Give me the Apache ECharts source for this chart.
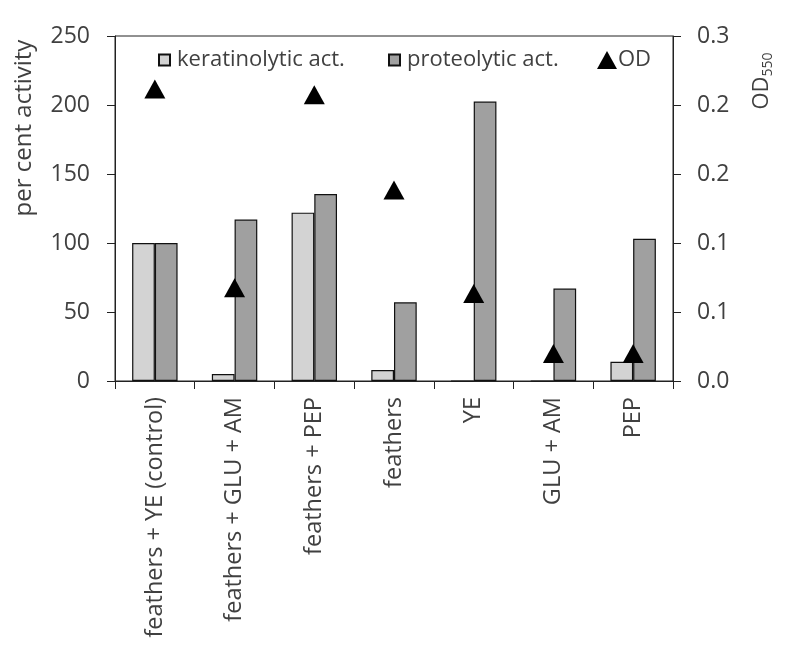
<!DOCTYPE html>
<html>
<head>
<meta charset="utf-8">
<script src="https://cdn.jsdelivr.net/npm/echarts@6/dist/echarts.min.js"></script>
<style>html,body{margin:0;padding:0;background:#fff}#c{width:786px;height:647px}</style>
</head>
<body>
<div id="c"></div>
<script>
const categories = ['feathers + YE (control)', 'feathers + GLU + AM', 'feathers + PEP', 'feathers', 'YE', 'GLU + AM', 'PEP'];
const keratinolytic = [100, 5, 122, 8, 0, 0, 14];
const proteolytic = [100, 117, 135.5, 57, 202.5, 67, 103];
const od = [0.254, 0.081, 0.249, 0.166, 0.076, 0.024, 0.024];
const leftTicks = ['0', '50', '100', '150', '200', '250'];
const rightTicks = ['0.0', '0.1', '0.1', '0.2', '0.2', '0.3'];

const FONT = 'Open Sans';
const TXT = '#404040';
const chart = echarts.init(document.getElementById('c'));
chart.setOption({
  animation: false,
  textStyle: {fontFamily: FONT, color: TXT},
  grid: {left: 115, right: 113, top: 36, bottom: 266, show: true, borderColor: '#222', borderWidth: 1, backgroundColor: 'transparent'},
  legend: [{
    left: 153, top: 44, itemWidth: 11, itemHeight: 11,
    textStyle: {fontFamily: FONT, fontSize: 22, color: TXT, padding: [0, 0, 0, 2]},
    data: [{name: 'keratinolytic act.', icon: 'rect'}]
  }, {
    left: 383, top: 44, itemWidth: 11, itemHeight: 11,
    textStyle: {fontFamily: FONT, fontSize: 22, color: TXT, padding: [0, 0, 0, 2]},
    data: [{name: 'proteolytic act.', icon: 'rect'}]
  }, {
    left: 592, top: 44, itemWidth: 20, itemHeight: 18,
    textStyle: {fontFamily: FONT, fontSize: 22, color: TXT, padding: [0, 0, 0, -4]},
    data: [{name: 'OD', icon: 'triangle'}]
  }],
  xAxis: {
    type: 'category', data: categories,
    axisLine: {lineStyle: {color: '#222', width: 1}},
    axisTick: {show: true, alignWithLabel: false, length: 8, inside: false, lineStyle: {color: '#222'}},
    axisLabel: {rotate: 90, fontSize: 23.5, color: TXT, margin: 16, fontFamily: FONT, interval: 0}
  },
  yAxis: [{
    type: 'value', min: 0, max: 250, interval: 50, position: 'left',
    splitLine: {show: false},
    axisLine: {show: true, lineStyle: {color: '#222'}},
    axisTick: {show: true, length: 8, lineStyle: {color: '#222'}},
    axisLabel: {fontSize: 23, color: TXT, margin: 25, fontFamily: FONT,
      formatter: (v) => leftTicks[Math.round(v / 50)]}
  }, {
    type: 'value', min: 0, max: 0.3, interval: 0.06, position: 'right',
    splitLine: {show: false},
    axisLine: {show: true, lineStyle: {color: '#222'}},
    axisTick: {show: true, length: 8, lineStyle: {color: '#222'}},
    axisLabel: {fontSize: 23, color: TXT, margin: 24, fontFamily: FONT,
      formatter: (v) => rightTicks[Math.round(v / 0.06)]}
  }],
  series: [{
    name: 'keratinolytic act.', type: 'bar', data: keratinolytic, barGap: '0%', barCategoryGap: '43%',
    itemStyle: {color: '#d3d3d3', borderColor: '#111', borderWidth: 1.2}
  }, {
    name: 'proteolytic act.', type: 'bar', data: proteolytic,
    itemStyle: {color: '#a0a0a0', borderColor: '#111', borderWidth: 1.2}
  }, {
    name: 'OD', type: 'scatter', yAxisIndex: 1, data: od, symbol: 'triangle', symbolSize: [21, 19],
    itemStyle: {color: '#000', opacity: 1}, z: 5
  }],
  graphic: [{
    type: 'text', x: 24, y: 128, rotation: Math.PI / 2,
    style: {text: 'per cent activity', fontFamily: FONT, fontSize: 24, fill: TXT, align: 'center', verticalAlign: 'middle'}
  }, {
    type: 'text', x: 762, y: 81, rotation: Math.PI / 2,
    style: {text: 'OD{s|550}', fontFamily: FONT, fontSize: 22, fill: TXT, align: 'center', verticalAlign: 'middle',
      rich: {s: {fontFamily: FONT, fontSize: 14, fill: TXT, padding: [12, 0, 0, 0]}}}
  }]
});
</script>
</body>
</html>
